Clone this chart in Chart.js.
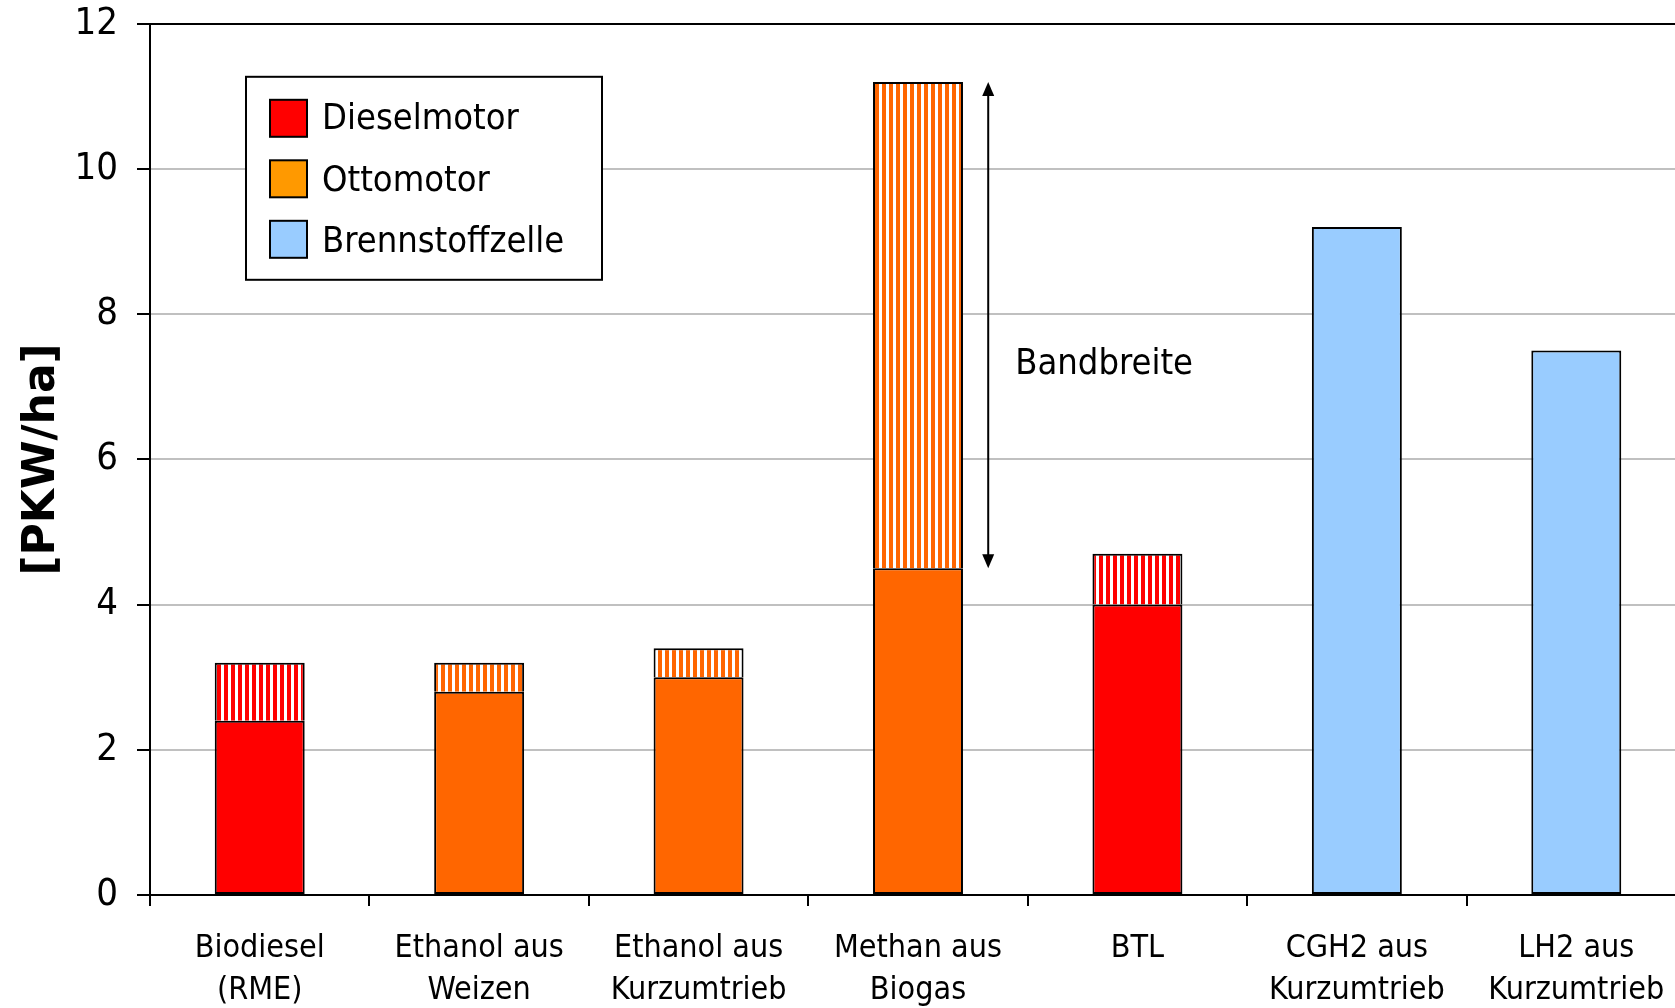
<!DOCTYPE html>
<html>
<head>
<meta charset="utf-8">
<script src="https://cdn.jsdelivr.net/npm/chart.js@4"></script>
<style>
    html, body { margin: 0; padding: 0; background: #fff; overflow: hidden; }
    .wrap { width: 1700px; height: 1026px; margin-top: -18px; position: relative; }
</style>
</head>
<body>
<div class="wrap"><canvas id="pkwchart"></canvas></div>
<script>
const categories = [
    ['Biodiesel', '(RME)'],
    ['Ethanol aus', 'Weizen'],
    ['Ethanol aus', 'Kurzumtrieb'],
    ['Methan aus', 'Biogas'],
    ['BTL'],
    ['CGH2 aus', 'Kurzumtrieb'],
    ['LH2 aus', 'Kurzumtrieb']
];
const dieselMin = [2.4, null, null, null, 4.0, null, null];
const dieselMax = [3.2, null, null, null, 4.7, null, null];
const ottoMin = [null, 2.8, 3.0, 4.5, null, null, null];
const ottoMax = [null, 3.2, 3.4, 11.2, null, null, null];
const brennstoffzelle = [null, null, null, null, null, 9.2, 7.5];
const yTicks = [0, 2, 4, 6, 8, 10, 12];
const legendLabels = ['Dieselmotor', 'Ottomotor', 'Brennstoffzelle'];
const legendColors = ['#ff0000', '#ff9900', '#99ccff'];
const bandLabel = 'Bandbreite';
const bandRange = [4.5, 11.2];

const FONT = "'DejaVu Sans Condensed', 'DejaVu Sans', sans-serif";

function stripes(color) {
    const c = document.createElement('canvas');
    c.width = 7;
    c.height = 7;
    const g = c.getContext('2d');
    g.fillStyle = '#ffffff';
    g.fillRect(0, 0, 7, 7);
    g.fillStyle = color;
    g.fillRect(0, 0, 4, 7);
    return g.createPattern(c, 'repeat');
}

function range(min, max) {
    return min.map((v, i) => v === null ? null : [v, max[i]]);
}

const overlay = {
    id: 'overlay',
    afterDraw(chart) {
        const ctx = chart.ctx;
        const area = chart.chartArea;
        const x = chart.scales.x;
        const y = chart.scales.y;

        // legend box
        const lx = area.left + 96, ly = area.top + 53;
        ctx.save();
        ctx.fillStyle = '#fff';
        ctx.fillRect(lx, ly, 356, 203);
        ctx.strokeStyle = '#000';
        ctx.lineWidth = 2;
        ctx.strokeRect(lx, ly, 356, 203);
        ctx.font = '36px ' + FONT;
        ctx.textBaseline = 'middle';
        legendLabels.forEach((label, i) => {
            const cy = ly + 41 + i * 60.5;
            ctx.fillStyle = legendColors[i];
            ctx.fillRect(lx + 24, cy - 18, 37, 37);
            ctx.lineWidth = 2;
            ctx.strokeRect(lx + 24, cy - 18, 37, 37);
            ctx.fillStyle = '#000';
            ctx.fillText(label, lx + 76, cy + 2 + i);
        });

        // Bandbreite arrow
        const step = x.getPixelForValue(1) - x.getPixelForValue(0);
        const ax = x.getPixelForValue(3) + 0.32 * step;
        const yTop = y.getPixelForValue(bandRange[1]);
        const yBot = y.getPixelForValue(bandRange[0]);
        ctx.strokeStyle = '#000';
        ctx.fillStyle = '#000';
        ctx.lineWidth = 2;
        ctx.beginPath();
        ctx.moveTo(ax, yTop + 10);
        ctx.lineTo(ax, yBot - 10);
        ctx.stroke();
        ctx.beginPath();
        ctx.moveTo(ax, yTop);
        ctx.lineTo(ax - 6, yTop + 14);
        ctx.lineTo(ax + 6, yTop + 14);
        ctx.closePath();
        ctx.fill();
        ctx.beginPath();
        ctx.moveTo(ax, yBot);
        ctx.lineTo(ax - 6, yBot - 14);
        ctx.lineTo(ax + 6, yBot - 14);
        ctx.closePath();
        ctx.fill();
        ctx.font = '36px ' + FONT;
        ctx.textBaseline = 'middle';
        ctx.textAlign = 'left';
        ctx.fillText(bandLabel, ax + 27, y.getPixelForValue(7.3));
        ctx.restore();
    }
};

document.addEventListener('DOMContentLoaded', function() {
    const ctx = document.getElementById('pkwchart').getContext('2d');

    new Chart(ctx, {
        type: 'bar',
        data: {
            labels: categories,
            datasets: [
                {
                    label: 'Dieselmotor',
                    data: dieselMin,
                    backgroundColor: '#ff0000',
                    borderColor: '#000',
                    borderWidth: 2
                },
                {
                    label: 'Dieselmotor Bandbreite',
                    data: range(dieselMin, dieselMax),
                    backgroundColor: stripes('#ff0000'),
                    borderColor: '#000',
                    borderWidth: { top: 2, left: 2, right: 2, bottom: 0 }
                },
                {
                    label: 'Ottomotor',
                    data: ottoMin,
                    backgroundColor: '#ff6600',
                    borderColor: '#000',
                    borderWidth: 2
                },
                {
                    label: 'Ottomotor Bandbreite',
                    data: range(ottoMin, ottoMax),
                    backgroundColor: stripes('#ff6600'),
                    borderColor: '#000',
                    borderWidth: { top: 2, left: 2, right: 2, bottom: 0 }
                },
                {
                    label: 'Brennstoffzelle',
                    data: brennstoffzelle,
                    backgroundColor: '#99ccff',
                    borderColor: '#000',
                    borderWidth: 2
                }
            ]
        },
        options: {
            responsive: true,
            maintainAspectRatio: false,
            animation: false,
            layout: { padding: { top: 0, right: 14, bottom: 0, left: 0 } },
            datasets: {
                bar: { categoryPercentage: 1, barPercentage: 0.41, borderSkipped: false }
            },
            plugins: {
                legend: { display: false },
                tooltip: { enabled: false }
            },
            scales: {
                x: {
                    stacked: true,
                    border: { color: '#000', width: 2 },
                    grid: {
                        offset: true,
                        drawOnChartArea: false,
                        tickColor: '#000',
                        tickLength: 11,
                        lineWidth: 2
                    },
                    ticks: {
                        color: '#000',
                        padding: 22,
                        maxRotation: 0,
                        autoSkip: false,
                        font: { family: FONT, size: 32, lineHeight: 1.3 }
                    },
                    afterFit: function(scale) { scale.height = 113; }
                },
                y: {
                    min: 0,
                    max: 12,
                    border: { color: '#000', width: 2 },
                    grid: {
                        color: c => c.tick && c.tick.value === 12 ? '#000' : '#c0c0c0',
                        tickColor: '#000',
                        tickLength: 13,
                        lineWidth: 2
                    },
                    afterBuildTicks: function(scale) {
                        scale.ticks = yTicks.map(v => ({ value: v }));
                    },
                    ticks: {
                        color: '#000',
                        padding: 19,
                        font: { family: FONT, size: 38 }
                    },
                    title: {
                        display: true,
                        text: '[PKW/ha]',
                        color: '#000',
                        padding: { top: 21, bottom: 0 },
                        font: { family: "'DejaVu Sans', sans-serif", size: 44, weight: 'bold', lineHeight: 1 }
                    },
                    afterFit: function(scale) { scale.width = 150; }
                }
            }
        },
        plugins: [overlay]
    });
});
</script>
</body>
</html>
